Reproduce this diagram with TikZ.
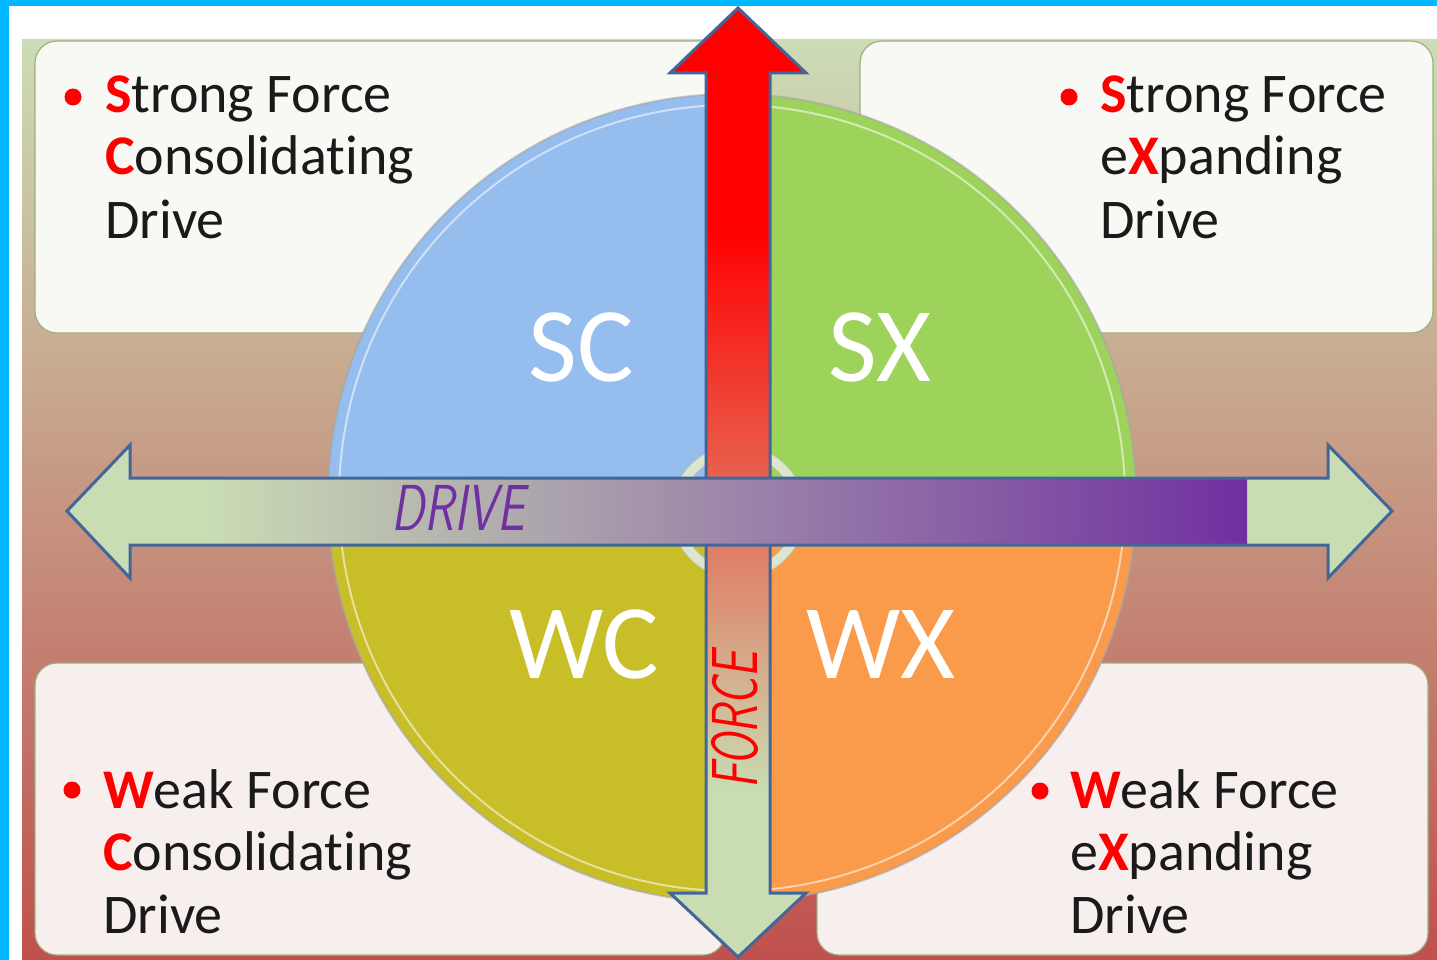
\documentclass[tikz,border=0pt]{standalone}
\usepackage{fontspec}
\setmainfont{Carlito}[Ligatures=NoCommon]
\usepackage{xcolor}
\usetikzlibrary{positioning}

\definecolor{frame}{HTML}{00B8FF}
\definecolor{panTop}{HTML}{CCDCB6}
\definecolor{panMid}{HTML}{C5A385}
\definecolor{panBot}{HTML}{C0504D}
\definecolor{boxTop}{HTML}{F8F9F4}
\definecolor{boxBot}{HTML}{F7EEEE}
\definecolor{boxLine}{HTML}{9DB07E}
\definecolor{quadSC}{HTML}{95BDEE}
\definecolor{quadSX}{HTML}{9DD35A}
\definecolor{quadWC}{HTML}{C8BE28}
\definecolor{quadWX}{HTML}{F99B4A}
\definecolor{paleGreen}{HTML}{C9DCB3}
\definecolor{forceMid}{HTML}{E08870}
\definecolor{drivePurple}{HTML}{7030A0}
\definecolor{arrowBlue}{HTML}{41679A}
\definecolor{ringFill}{HTML}{DCE6CF}
\definecolor{ringEdge}{HTML}{B8C4AC}
\definecolor{inkText}{HTML}{1A1A1A}

\newcommand{\redl}[1]{\textcolor{red}{\bfseries #1}}

\begin{document}
\begin{tikzpicture}[x=1pt,y=-1pt,
                  panel/.style={rounded corners=22pt,draw=boxLine,line width=1.2pt},
                  line/.style={anchor=base west,inner sep=0pt,text=inkText,
                    font=\fontsize{56}{62}\selectfont},
                  quad/.style={anchor=base,inner sep=0pt,text=white,
                    font=\fontsize{106}{110}\selectfont},
                  hand/.style={inner sep=0pt,font=\sffamily\itshape\fontsize{65}{65}\selectfont},
                  outline/.style={draw=arrowBlue,line width=3pt,line join=miter}
                  ]
                  \useasboundingbox (0,0) rectangle (1437,960);
                  \fill[white] (0,0) rectangle (1437,960);
                  \fill[frame] (0,0) rectangle (1437,6);
                  \fill[frame] (0,0) rectangle (9,960);
                  \shade[top color=panTop,middle color=panMid,bottom color=panBot]
                    (22,40) rectangle (1437,960);

                  % corner boxes
                  \filldraw[panel,fill=boxTop] (35,41) rectangle (722,333);
                  \filldraw[panel,fill=boxTop] (860,41) rectangle (1433,333);
                  \filldraw[panel,fill=boxBot] (35,663) rectangle (725,955);
                  \filldraw[panel,fill=boxBot] (817,663) rectangle (1428,955);

                  % quadrants
                  \coordinate (C) at (732,498);
                  \fill[quadSC] (C) -- ++(-404,0) arc[start angle=180,end angle=270,radius=404] -- cycle;
                  \fill[quadSX] (C) -- ++(0,-404) arc[start angle=270,end angle=360,radius=404] -- cycle;
                  \fill[quadWX] (C) -- ++(404,0) arc[start angle=0,end angle=90,radius=404] -- cycle;
                  \fill[quadWC] (C) -- ++(0,404) arc[start angle=90,end angle=180,radius=404] -- cycle;
                  \draw[black!35,opacity=0.6,line width=2pt] (C) circle (404);
                  \draw[white,opacity=0.55,line width=2pt] (C) circle (393);
                  \draw[ringEdge,double=ringFill,double distance=9pt,line width=0.8pt] (738,512) circle (62);

                  % force arrow
                  \begin{scope}
                    \clip (738,8) -- (806,73) -- (770,73) -- (770,893) -- (806,893) -- (738,957)
                      -- (670,893) -- (706,893) -- (706,73) -- (670,73) -- cycle;
                    \fill[paleGreen] (660,0) rectangle (816,960);
                    \fill[red] (660,0) rectangle (816,230);
                    \shade[top color=red,middle color=forceMid,bottom color=paleGreen]
                      (660,230) rectangle (816,790);
                  \end{scope}
                  \draw[outline] (738,8) -- (806,73) -- (770,73) -- (770,893) -- (806,893) -- (738,957)
                    -- (670,893) -- (706,893) -- (706,73) -- (670,73) -- cycle;
                  \node[hand,text=red,rotate=90] (force) at (735,720) {\scalebox{0.71}[1]{FORCE}};

                  % drive arrow
                  \begin{scope}
                    \clip (67,511) -- (130,445) -- (130,478) -- (1328,478) -- (1328,445) -- (1392,511)
                      -- (1328,578) -- (1328,545) -- (130,545) -- (130,578) -- cycle;
                    \fill[paleGreen] (60,440) rectangle (1400,585);
                    \shade[left color=paleGreen,right color=drivePurple] (210,470) rectangle (1247,552);
                  \end{scope}
                  \draw[outline] (67,511) -- (130,445) -- (130,478) -- (1328,478) -- (1328,445) -- (1392,511)
                    -- (1328,578) -- (1328,545) -- (130,545) -- (130,578) -- cycle;
                  \node[hand,text=drivePurple] (drive) at (458,508) {\scalebox{0.75}[1]{DRIVE}};

                  % quadrant labels
                  \node[quad] (SC) at (581,381) {SC};
                  \node[quad] (SX) at (880,381) {SX};
                  \node[quad] (WC) at (584,678) {WC};
                  \node[quad] (WX) at (881,678) {WX};

                  % box texts
                  \fill[red] (73,97) circle (8.5);
                  \node[line] (SC1) at (105,113) {\redl{S}trong Force};
                  \node[line] (SC2) at (105,175) {\redl{C}onsolidating};
                  \node[line] (SC3) at (105,238) {Drive};
                  \fill[red] (1069,97) circle (8.5);
                  \node[line] (SX1) at (1100,113) {\redl{S}trong Force};
                  \node[line] (SX2) at (1100,175) {e\redl{X}panding};
                  \node[line] (SX3) at (1100,238) {Drive};
                  \fill[red] (72,790) circle (8.5);
                  \node[line] (WC1) at (103,808) {\redl{W}eak Force};
                  \node[line] (WC2) at (103,870) {\redl{C}onsolidating};
                  \node[line] (WC3) at (103,933) {Drive};
                  \fill[red] (1040,791) circle (8.5);
                  \node[line] (WX1) at (1070,808) {\redl{W}eak Force};
                  \node[line] (WX2) at (1070,870) {e\redl{X}panding};
                  \node[line] (WX3) at (1070,933) {Drive};
                \end{tikzpicture}
\end{document}
